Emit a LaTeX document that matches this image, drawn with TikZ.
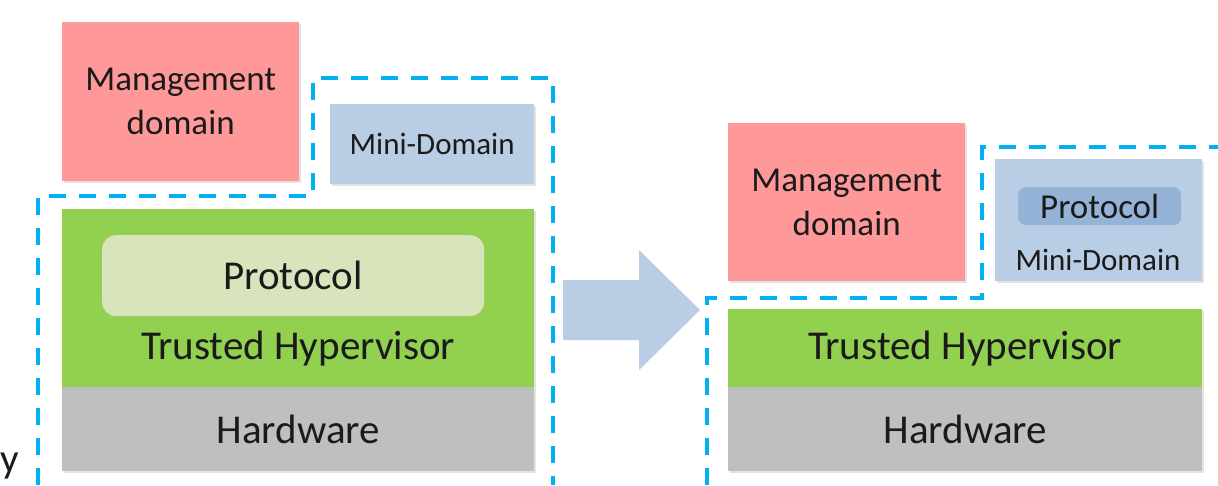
\documentclass[tikz,border=0pt]{standalone}
\usepackage{fontspec}
\setmainfont{Carlito}
\usetikzlibrary{shadows}

\definecolor{mgmtpink}{HTML}{FF9999}
\definecolor{miniblue}{HTML}{B9CDE5}
\definecolor{hvgreen}{HTML}{92D050}
\definecolor{hwgray}{HTML}{BFBFBF}
\definecolor{protolight}{HTML}{D8E4BC}
\definecolor{protoblue}{HTML}{95B3D7}
\definecolor{tcbdash}{HTML}{00B0F0}
\definecolor{txt}{HTML}{1A1A1A}

\tikzset{
  layer/.style={draw=none, inner sep=0pt, anchor=north west,
    drop shadow={opacity=0.22, shadow xshift=1.5pt, shadow yshift=-2pt}},
  flatbox/.style={draw=none, inner sep=0pt, anchor=north west},
  tcb/.style={draw=tcbdash, line width=4.3pt, dash pattern=on 17pt off 13pt},
  bigtxt/.style={font=\fontsize{41}{49}\selectfont, text=txt},
  midtxt/.style={font=\fontsize{35}{44}\selectfont, text=txt, align=center},
  smalltxt/.style={font=\fontsize{31}{37}\selectfont, text=txt},
}

\begin{document}
\begin{tikzpicture}[x=1pt, y=-1pt]
  \useasboundingbox (0,0) rectangle (1218,485);
  \clip (0,0) rectangle (1218,485);

  % ---------- before: protocol inside the hypervisor ----------
  \node[layer, fill=mgmtpink, minimum width=237pt, minimum height=159pt, midtxt]
    (mgmtL) at (62,22) {Management\\domain};
  \node[layer, fill=miniblue, minimum width=204pt, minimum height=80pt, smalltxt]
    (miniL) at (330,104) {Mini-Domain};
  \node[layer, fill=hvgreen, minimum width=472pt, minimum height=178pt]
    (hvL) at (62,209) {};
  \node[layer, fill=hwgray, minimum width=472pt, minimum height=84pt, bigtxt]
    (hwL) at (62,387) {Hardware};
  \node[flatbox, fill=protolight, rounded corners=14pt,
        minimum width=382pt, minimum height=81pt, bigtxt]
    (protoL) at (102,235) {Protocol};
  \node[bigtxt, inner sep=0pt] (hvLtext) at (298,349) {Trusted Hypervisor};

  % trusted computing base, left
  \draw[tcb] (38,485) -- (38,196) -- (313,196) -- (313,78) -- (553,78) -- (553,485);

  \node[bigtxt, anchor=base west, inner sep=0pt] (ytail) at (0.5,472) {y};

  % transition arrow
  \fill[miniblue] (563,280) -- (639,280) -- (639,250) -- (700,310)
                  -- (639,370) -- (639,340) -- (563,340) -- cycle;

  % ---------- after: protocol moved into the mini-domain ----------
  \node[layer, fill=mgmtpink, minimum width=237pt, minimum height=158pt, midtxt]
    (mgmtR) at (728,123) {Management\\domain};
  \node[layer, fill=miniblue, minimum width=207pt, minimum height=122pt]
    (miniR) at (995,159) {};
  \node[flatbox, fill=protoblue, rounded corners=8pt,
        minimum width=163pt, minimum height=38pt,
        font=\fontsize{35}{42}\selectfont, text=txt]
    (protoR) at (1018,187) {Protocol};
  \node[smalltxt, inner sep=0pt] (miniRtext) at (1098,260) {Mini-Domain};
  \node[layer, fill=hvgreen, minimum width=474pt, minimum height=78pt, bigtxt]
    (hvR) at (728,309) {Trusted Hypervisor};
  \node[layer, fill=hwgray, minimum width=474pt, minimum height=84pt, bigtxt]
    (hwR) at (728,387) {Hardware};

  % trusted computing base, right
  \draw[tcb] (707,485) -- (707,298) -- (982,298) -- (982,147) -- (1218,147);
\end{tikzpicture}
\end{document}
